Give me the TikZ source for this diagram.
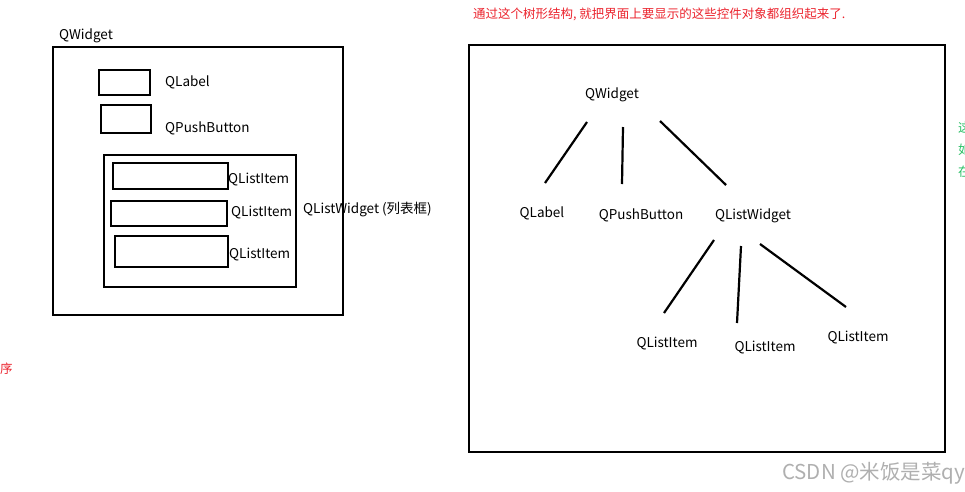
\documentclass[tikz,border=0pt]{standalone}
\usepackage{fontspec}
\setmainfont{Noto Sans CJK SC}
\usepackage{tikz}
\usetikzlibrary{positioning,calc}
\definecolor{NoteRed}{RGB}{235,35,45}
\definecolor{NoteGreen}{RGB}{40,190,100}
\definecolor{MarkGray}{RGB}{175,175,175}

\begin{document}
\begin{tikzpicture}[
  x=1pt,y=-1pt,
  frame/.style={draw,line width=2.2pt,inner sep=0pt},
  lbl/.style={inner sep=1pt,yshift=-1.5pt,font=\fontsize{13.5}{15}\selectfont},
  edge/.style={line width=2.2pt},
  note/.style={inner sep=0pt,anchor=west,font=\fontsize{12.5}{15}\selectfont}
]
  \useasboundingbox (0,0) rectangle (965,491);

  % left: nested widgets
  \node[frame,minimum width=290pt,minimum height=268pt] (outer) at (198,181) {};
  \node[lbl,anchor=west] (outertxt) at (58,34) {QWidget};
  \node[frame,minimum width=51pt,minimum height=25pt] (labelbox) at (124.5,82.5) {};
  \node[lbl,anchor=west] (labeltxt) at (164,81) {QLabel};
  \node[frame,minimum width=50pt,minimum height=28pt] (btnbox) at (126,119) {};
  \node[lbl,anchor=west] (btntxt) at (164,127) {QPushButton};
  \node[frame,minimum width=192pt,minimum height=132pt] (listbox) at (200,221) {};
  \node[lbl,anchor=west] (listtxt) at (302,208) {QListWidget (列表框)};
  \node[frame,minimum width=115pt,minimum height=26pt] (itemA) at (170.5,176) {};
  \node[lbl,anchor=west] (itemAtxt) at (227,178) {QListItem};
  \node[frame,minimum width=116pt,minimum height=25pt] (itemB) at (169,213.5) {};
  \node[lbl,anchor=west] (itemBtxt) at (230,211) {QListItem};
  \node[frame,minimum width=113pt,minimum height=31pt] (itemC) at (171.5,251.5) {};
  \node[lbl,anchor=west] (itemCtxt) at (228,253) {QListItem};

  % right: object tree
  \node[note,text=NoteRed] (title) at (473,14) {通过这个树形结构, 就把界面上要显示的这些控件对象都组织起来了.};
  \node[frame,minimum width=476pt,minimum height=407pt] (treebox) at (707,248.5) {};
  \node[lbl] (qw) at (612,93) {QWidget};
  \node[lbl] (ql) at (542,212) {QLabel};
  \node[lbl] (qpb) at (641,214) {QPushButton};
  \node[lbl] (qlw) at (753,214) {QListWidget};
  \node[lbl] (qi1) at (667,342) {QListItem};
  \node[lbl] (qi2) at (765,346) {QListItem};
  \node[lbl] (qi3) at (858,336) {QListItem};
  \draw[edge] ($(qw)+(-25,27.5)$) -- ($(ql)+(3,-30.5)$);
  \draw[edge] ($(qw)+(11,32.5)$) -- ($(qpb)+(-19,-31.5)$);
  \draw[edge] ($(qw)+(48,26.5)$) -- ($(qlw)+(-27,-30.5)$);
  \draw[edge] ($(qlw)+(-39,24.5)$) -- ($(qi1)+(-3,-30.5)$);
  \draw[edge] ($(qlw)+(-12,30.5)$) -- ($(qi2)+(-28,-24.5)$);
  \draw[edge] ($(qlw)+(7,28.5)$) -- ($(qi3)+(-12,-30.5)$);

  % cut-off notes at the edges
  \node[note,text=NoteRed] (side) at (0,369) {序};
  \node[note,text=NoteGreen] (g1) at (958,128) {这};
  \node[note,text=NoteGreen] (g2) at (958,150) {如};
  \node[note,text=NoteGreen] (g3) at (958,172) {在};
  \node[note,text=MarkGray,font=\fontsize{20.5}{22}\selectfont] (mark) at (782,473) {CSDN @米饭是菜qy};
\end{tikzpicture}
\end{document}
